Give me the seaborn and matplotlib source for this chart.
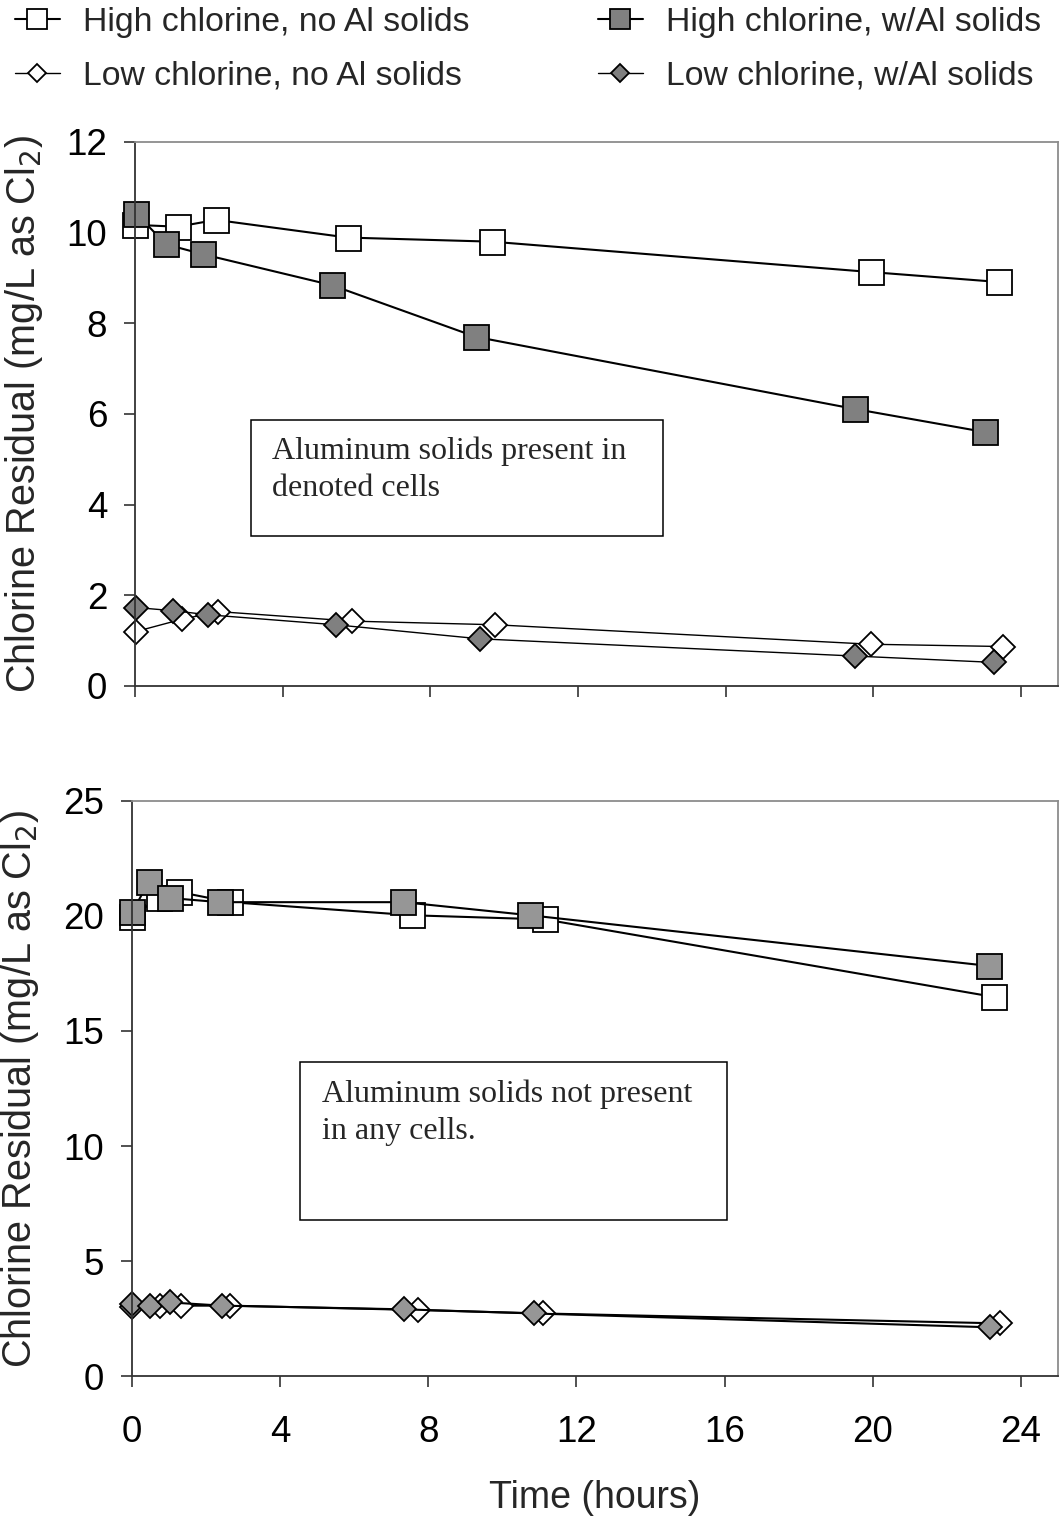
import pandas as pd
import seaborn as sns
import matplotlib.pyplot as plt
from matplotlib.patches import Rectangle

# top panel: aluminum solids present in denoted cells
top_hi_noal_t = [0.0, 1.16, 2.19, 5.76, 9.66, 19.92, 23.40]
top_hi_noal_y = [10.17, 10.13, 10.28, 9.89, 9.80, 9.13, 8.91]
top_hi_al_t = [0.03, 0.84, 1.85, 5.33, 9.23, 19.49, 23.02]
top_hi_al_y = [10.42, 9.74, 9.52, 8.84, 7.70, 6.11, 5.60]
top_lo_noal_t = [0.02, 1.26, 2.26, 5.88, 9.76, 19.94, 23.50]
top_lo_noal_y = [1.20, 1.47, 1.64, 1.43, 1.35, 0.92, 0.87]
top_lo_al_t = [0.02, 1.04, 1.98, 5.43, 9.34, 19.49, 23.26]
top_lo_al_y = [1.73, 1.66, 1.57, 1.35, 1.04, 0.66, 0.52]

# bottom panel: no aluminum solids
bot_hi_noal_t = [0.0, 0.73, 1.28, 2.66, 7.57, 11.15, 23.27]
bot_hi_noal_y = [19.96, 20.80, 21.04, 20.60, 20.03, 19.85, 16.48]
bot_hi_al_t = [0.01, 0.45, 1.03, 2.37, 7.33, 10.75, 23.13]
bot_hi_al_y = [20.17, 21.48, 20.78, 20.60, 20.60, 20.03, 17.83]
bot_lo_noal_t = [0.0, 0.76, 1.32, 2.66, 7.73, 11.10, 23.43]
bot_lo_noal_y = [3.00, 3.06, 3.06, 3.06, 2.87, 2.72, 2.29]
bot_lo_al_t = [0.0, 0.49, 1.03, 2.44, 7.35, 10.86, 23.16]
bot_lo_al_y = [3.12, 3.06, 3.20, 3.06, 2.90, 2.72, 2.12]

labels = ["High chlorine, no Al solids", "High chlorine, w/Al solids",
          "Low chlorine, no Al solids", "Low chlorine, w/Al solids"]
x_ticks = [0, 4, 8, 12, 16, 20, 24]
top_y_ticks = [0, 2, 4, 6, 8, 10, 12]
bot_y_ticks = [0, 5, 10, 15, 20, 25]

sns.set_theme(style="ticks")
plt.rcParams["font.family"] = ["Liberation Sans", "DejaVu Sans"]


def draw_series(ax, t, y, marker, face, size, lw, label=None):
    df = pd.DataFrame({"time": t, "residual": y})
    sns.lineplot(data=df, x="time", y="residual", ax=ax, sort=False, estimator=None,
                 color="black", lw=lw, marker=marker, markersize=size,
                 markerfacecolor=face, markeredgecolor="black", markeredgewidth=1.3,
                 clip_on=False, legend=False, label=label)


def style_axis(ax, yticks, ylim, show_xlabels):
    ax.set_xlim(0, 25)
    ax.set_ylim(*ylim)
    ax.set_xticks(x_ticks)
    ax.set_yticks(yticks)
    if not show_xlabels:
        ax.set_xticklabels([])
    ax.tick_params(axis="both", direction="out", length=8, width=1.2, color="#333333",
                   labelsize=26.5, labelcolor="black")
    ax.tick_params(axis="x", pad=20)
    ax.tick_params(axis="y", pad=12)
    for side in ["left", "bottom"]:
        ax.spines[side].set_color("#333333")
        ax.spines[side].set_linewidth(1.3)
    for side in ["top", "right"]:
        ax.spines[side].set_visible(True)
        ax.spines[side].set_color("#8c8c8c")
        ax.spines[side].set_linewidth(1.3)
    ax.set_ylabel("Chlorine Residual (mg/L as Cl$_2$)", fontsize=28.5)
    ax.yaxis.set_label_coords(-0.098, 0.5)
    ax.grid(False)


def note_box(ax, x0, y0, w, h, tx, ty, text):
    ax.add_patch(Rectangle((x0, y0), w, h, transform=ax.transAxes, fill=False,
                           edgecolor="black", lw=1.1, zorder=1))
    ax.text(tx, ty, text, transform=ax.transAxes, ha="left", va="top",
            fontsize=23, family="Liberation Serif", linespacing=1.35)


fig = plt.figure(figsize=(10.6, 15.21), dpi=100)
ax1 = fig.add_axes([0.1274, 0.5490, 0.8708, 0.3577])
ax2 = fig.add_axes([0.1245, 0.0953, 0.8736, 0.3781])

gray_top = "#808080"
gray_bot = "#969696"

draw_series(ax1, top_hi_noal_t, top_hi_noal_y, "s", "white", 18, 1.5, labels[0])
draw_series(ax1, top_hi_al_t, top_hi_al_y, "s", gray_top, 18, 1.5, labels[1])
draw_series(ax1, top_lo_noal_t, top_lo_noal_y, "D", "white", 12, 1.0, labels[2])
draw_series(ax1, top_lo_al_t, top_lo_al_y, "D", gray_top, 12, 1.0, labels[3])

draw_series(ax2, bot_hi_noal_t, bot_hi_noal_y, "s", "white", 18, 1.5)
draw_series(ax2, bot_hi_al_t, bot_hi_al_y, "s", gray_bot, 18, 1.5)
draw_series(ax2, bot_lo_noal_t, bot_lo_noal_y, "D", "white", 12, 1.5)
draw_series(ax2, bot_lo_al_t, bot_lo_al_y, "D", gray_bot, 12, 1.5)

style_axis(ax1, top_y_ticks, (0, 12), False)
style_axis(ax2, bot_y_ticks, (0, 25), True)
ax1.set_xlabel("")
ax2.set_xlabel("Time (hours)", fontsize=27)
ax2.xaxis.set_label_coords(0.5, -0.18)

note_box(ax1, 0.126, 0.276, 0.446, 0.213, 0.148, 0.458,
         "Aluminum solids present in\ndenoted cells")
note_box(ax2, 0.181, 0.271, 0.462, 0.275, 0.205, 0.515,
         "Aluminum solids not present\nin any cells.")

# legend in two separate columns across the top of the figure
handles, labs = ax1.get_legend_handles_labels()
hmap = dict(zip(labs, handles))
leg_kw = dict(frameon=False, fontsize=24.3, markerscale=0.78, handlelength=1.33,
              handletextpad=0.68, labelspacing=0.68, borderpad=0, borderaxespad=0,
              loc="upper left")
leg1 = fig.legend([hmap[labels[0]], hmap[labels[2]]], [labels[0], labels[2]],
                  bbox_to_anchor=(0.014, 0.9954), **leg_kw)
leg2 = fig.legend([hmap[labels[1]], hmap[labels[3]]], [labels[1], labels[3]],
                  bbox_to_anchor=(0.564, 0.9954), **leg_kw)

fig.savefig("out.png", dpi=100)
